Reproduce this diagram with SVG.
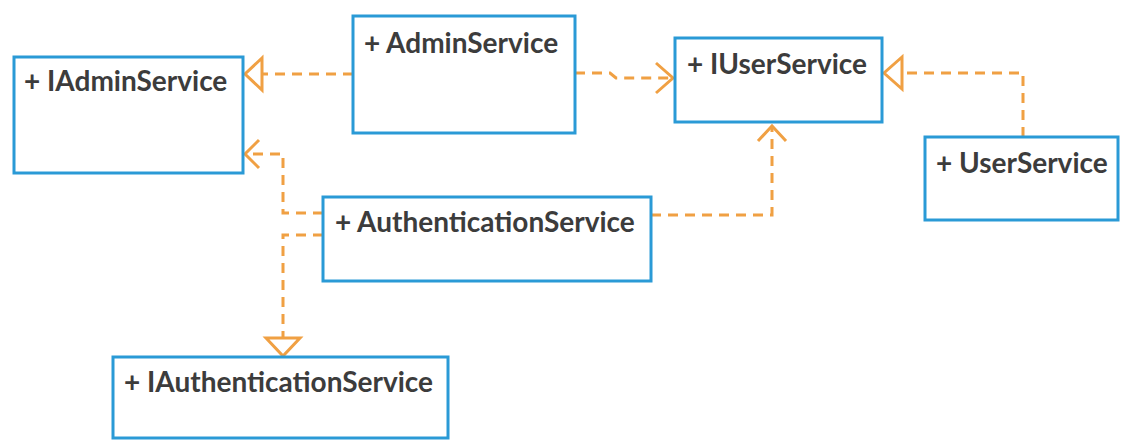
<svg xmlns="http://www.w3.org/2000/svg" width="1122" height="441" viewBox="0 0 1122 441">
<style>
.box{fill:#ffffff;stroke:#2a9ad6;stroke-width:3}
.lbl{font-family:Lato,"Open Sans","Liberation Sans",sans-serif;font-weight:700;font-size:28px;fill:#3c3c3c}
.dash{fill:none;stroke:#f0a043;stroke-width:3;stroke-dasharray:10,7}
.head{fill:none;stroke:#f0a043;stroke-width:3;stroke-linejoin:miter}
</style>
<rect width="1122" height="441" fill="#ffffff"/>
<g id="connectors">
  <path class="dash" d="M353,74 H262"/>
  <path class="head" d="M262,58 L245,74 L262,90 Z"/>
  <path class="dash" d="M575,73 H610 L616,78 H673"/>
  <path class="head" d="M656,63 L673,78 L656,93"/>
  <path class="dash" d="M1023,137 V73 H902"/>
  <path class="head" d="M902,57 L884,73 L902,89 Z"/>
  <path class="dash" d="M651,215 H772 V126"/>
  <path class="head" d="M758,141 L772,126 L786,141"/>
  <path class="dash" d="M323,213 H283 V154 H245"/>
  <path class="head" d="M259,140 L245,154 L259,168"/>
  <path class="dash" d="M323,235 H283 V338"/>
  <path class="head" d="M266,338 L283,356 L300,338 Z"/>
</g>
<g id="IAdminService">
  <rect class="box" x="14" y="57" width="229" height="116"/>
  <text class="lbl" x="24" y="91">+ IAdminService</text>
</g>
<g id="AdminService">
  <rect class="box" x="353" y="16" width="222" height="117"/>
  <text class="lbl" x="364" y="53">+ AdminService</text>
</g>
<g id="IUserService">
  <rect class="box" x="675" y="38" width="207" height="84"/>
  <text class="lbl" x="687" y="74">+ IUserService</text>
</g>
<g id="UserService">
  <rect class="box" x="925" y="137" width="193" height="83"/>
  <text class="lbl" x="936" y="173">+ UserService</text>
</g>
<g id="AuthenticationService">
  <rect class="box" x="323" y="197" width="328" height="84"/>
  <text class="lbl" x="335" y="232">+ AuthenticationService</text>
</g>
<g id="IAuthenticationService">
  <rect class="box" x="113" y="357" width="335" height="81"/>
  <text class="lbl" x="124" y="392">+ IAuthenticationService</text>
</g>
</svg>
